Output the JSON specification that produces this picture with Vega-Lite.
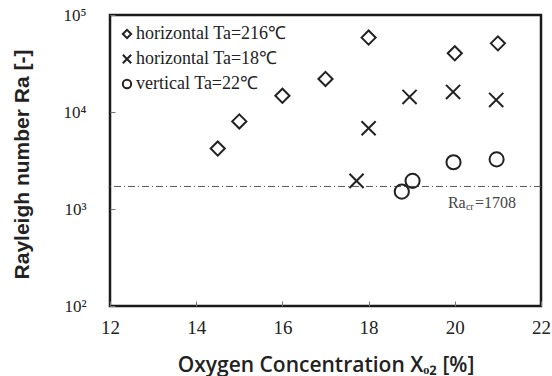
{
  "$schema": "https://vega.github.io/schema/vega-lite/v6.json",
  "autosize": "none",
  "padding": {"left": 110, "top": 15, "right": 11, "bottom": 70},
  "width": 431,
  "height": 291,
  "background": "white",
  "config": {
    "view": {"stroke": "#1a1a1a", "strokeWidth": 2.5},
    "axis": {"grid": false, "domain": false, "labelFont": "Liberation Serif"},
    "legend": {"labelFont": "Liberation Serif"}
  },
  "datasets": {
    "pts": [
      {"series": "horizontal Ta=216℃", "x": 14.5, "ra": 4200},
      {"series": "horizontal Ta=216℃", "x": 15, "ra": 8000},
      {"series": "horizontal Ta=216℃", "x": 16, "ra": 14700},
      {"series": "horizontal Ta=216℃", "x": 17, "ra": 21900},
      {"series": "horizontal Ta=216℃", "x": 18, "ra": 58500},
      {"series": "horizontal Ta=216℃", "x": 20, "ra": 40300},
      {"series": "horizontal Ta=216℃", "x": 21, "ra": 51000},
      {"series": "horizontal Ta=18℃", "x": 17.72, "ra": 1950},
      {"series": "horizontal Ta=18℃", "x": 18, "ra": 6800},
      {"series": "horizontal Ta=18℃", "x": 18.95, "ra": 14300},
      {"series": "horizontal Ta=18℃", "x": 19.96, "ra": 16100},
      {"series": "horizontal Ta=18℃", "x": 20.96, "ra": 13300},
      {"series": "vertical Ta=22℃", "x": 18.77, "ra": 1510},
      {"series": "vertical Ta=22℃", "x": 19.02, "ra": 1950},
      {"series": "vertical Ta=22℃", "x": 19.97, "ra": 3030},
      {"series": "vertical Ta=22℃", "x": 20.97, "ra": 3250}
    ]
  },
  "layer": [
    {
      "data": {"values": [{"ra": 1708}]},
      "mark": {"type": "rule", "stroke": "#555555", "strokeWidth": 1, "strokeDash": [7, 3, 1, 3]},
      "encoding": {"y": {"field": "ra", "type": "quantitative", "scale": {"type": "log", "domain": [100, 100000], "nice": false}}}
    },
    {
      "data": {"name": "pts"},
      "mark": {"type": "point", "filled": false, "size": 200, "strokeWidth": 2, "color": "#222222", "opacity": 1},
      "encoding": {
        "x": {
          "field": "x", "type": "quantitative",
          "scale": {"domain": [12, 22], "nice": false},
          "axis": {
            "values": [12, 14, 16, 18, 20, 22],
            "title": "Oxygen Concentration Xₒ₂ [%]",
            "titleFont": "Open Sans", "titleFontSize": 21, "titleFontWeight": 600, "titleColor": "#222222",
            "titleY": 59, "titleBaseline": "middle",
            "labelFont": "Liberation Serif", "labelFontSize": 19, "labelColor": "#222222",
            "labelPadding": 17, "tickSize": -5, "tickWidth": 1, "tickColor": "#777777", "labelFlush": false
          }
        },
        "y": {
          "field": "ra", "type": "quantitative",
          "scale": {"type": "log", "domain": [100, 100000], "nice": false},
          "axis": {
            "values": [100, 1000, 10000, 100000],
            "labelExpr": "datum.value == 100 ? '10²' : datum.value == 1000 ? '10³' : datum.value == 10000 ? '10⁴' : '10⁵'",
            "title": "Rayleigh number Ra [-]",
            "titleFont": "Liberation Sans", "titleFontSize": 21, "titleFontWeight": "bold", "titleColor": "#222222",
            "titleAngle": -90, "titleX": -88, "titleY": 149, "titleAlign": "center", "titleBaseline": "middle",
            "labelFont": "Liberation Serif", "labelFontSize": 17, "labelColor": "#222222",
            "labelPadding": 29, "tickSize": -5, "tickWidth": 1, "tickColor": "#777777", "labelFlush": false
          }
        },
        "shape": {
          "field": "series", "type": "nominal",
          "scale": {
            "domain": ["horizontal Ta=216℃", "horizontal Ta=18℃", "vertical Ta=22℃"],
            "range": ["diamond", "M-1,-1L1,1M-1,1L1,-1", "circle"]
          },
          "legend": {
            "title": null, "orient": "none", "legendX": 8, "legendY": 10, "padding": 0,
            "labelFont": "Liberation Serif", "labelFontSize": 18, "labelColor": "#222222",
            "symbolSize": 70, "symbolStrokeWidth": 2, "symbolStrokeColor": "#222222", "symbolFillColor": "transparent",
            "labelOffset": 0, "rowPadding": 7
          }
        }
      }
    },
    {
      "data": {"values": [{"x": 19.84, "ra": 1150, "t": "Ra"}]},
      "mark": {"type": "text", "align": "left", "baseline": "middle", "font": "Liberation Serif", "fontSize": 16, "color": "#444444"},
      "encoding": {
        "x": {"field": "x", "type": "quantitative"},
        "y": {"field": "ra", "type": "quantitative"},
        "text": {"field": "t"}
      }
    },
    {
      "data": {"values": [{"x": 19.84, "ra": 1150, "t": "cr"}]},
      "mark": {"type": "text", "align": "left", "baseline": "middle", "font": "Liberation Serif", "fontSize": 10, "color": "#444444", "dx": 18, "dy": 4},
      "encoding": {
        "x": {"field": "x", "type": "quantitative"},
        "y": {"field": "ra", "type": "quantitative"},
        "text": {"field": "t"}
      }
    },
    {
      "data": {"values": [{"x": 19.84, "ra": 1150, "t": "=1708"}]},
      "mark": {"type": "text", "align": "left", "baseline": "middle", "font": "Liberation Serif", "fontSize": 16, "color": "#444444", "dx": 27},
      "encoding": {
        "x": {"field": "x", "type": "quantitative"},
        "y": {"field": "ra", "type": "quantitative"},
        "text": {"field": "t"}
      }
    }
  ]
}
